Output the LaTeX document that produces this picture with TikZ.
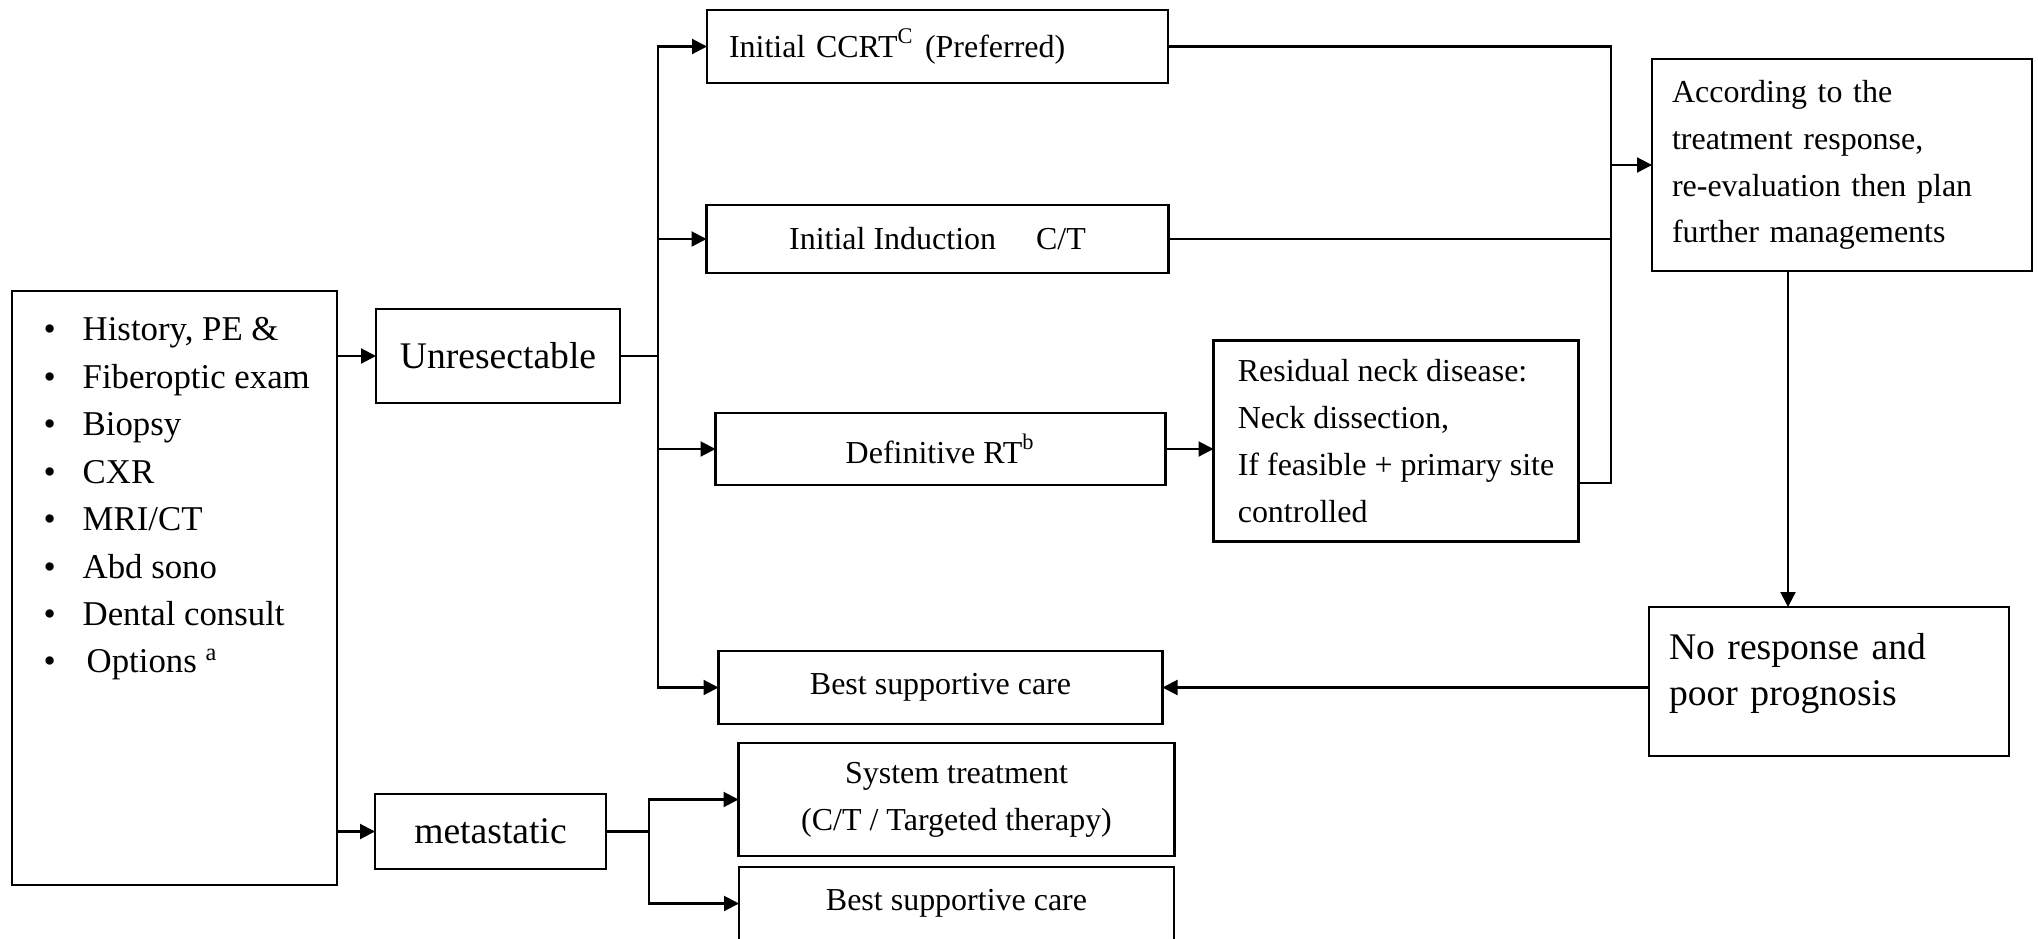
\documentclass[tikz,border=0pt]{standalone}
\usepackage{fontspec}
\setmainfont{Liberation Serif}
\usetikzlibrary{positioning,arrows.meta,calc}

\begin{document}
\begin{tikzpicture}[
  every node/.style={font=\fontsize{9.1}{13.3}\selectfont},
  box/.style={rectangle, draw=black, line width=0.8pt, inner xsep=0.2cm, inner ysep=0pt,
              outer sep=0pt, align=center},
  bigtxt/.style={font=\fontsize{10.7}{13.3}\selectfont},
  line/.style={line width=0.6pt, black},
  arr/.style={-{Triangle[length=1.5mm, width=1.5mm]}, line width=0.6pt, black}
]
  \useasboundingbox (0,0) rectangle (20.38,-9.38);
  \node[box, minimum width=3.25cm, minimum height=5.94cm] (list) at (1.745,-5.88) {};
  \node[anchor=north west, inner sep=0pt, align=left, font=\fontsize{9.9}{13.5}\selectfont] (listtxt)
    at ($(list.north west)+(0.31,-0.26)$)
    {\makebox[3.9mm][l]{\textbullet}History, PE \&\\
     \makebox[3.9mm][l]{\textbullet}Fiberoptic exam\\
     \makebox[3.9mm][l]{\textbullet}Biopsy\\
     \makebox[3.9mm][l]{\textbullet}CXR\\
     \makebox[3.9mm][l]{\textbullet}MRI/CT\\
     \makebox[3.9mm][l]{\textbullet}Abd sono\\
     \makebox[3.9mm][l]{\textbullet}Dental consult\\
     \makebox[3.9mm][l]{\textbullet}\hspace{0.4mm}Options \textsuperscript{a}};
  \node[box, bigtxt, minimum width=2.44cm, minimum height=0.94cm] (unres) at (4.98,-3.56) {Unresectable};
  \node[box, bigtxt, minimum width=2.31cm, minimum height=0.75cm] (meta) at (4.905,-8.315) {metastatic};
  \node[box, text width=4.17cm, align=left, inner xsep=0.22cm, minimum height=0.73cm] (ccrt)
    at (9.375,-0.465) {Initial CCRT\textsuperscript{C} (Preferred)};
  \node[box, minimum width=4.62cm, minimum height=0.68cm, below=1.22cm of ccrt] (induc)
    {Initial Induction\hspace{4mm}C/T};
  \node[box, minimum width=4.50cm, minimum height=0.72cm, below=1.40cm of induc, xshift=0.03cm] (defrt)
    {Definitive RT\textsuperscript{b}};
  \node[box, minimum width=4.44cm, minimum height=0.73cm, below=1.66cm of defrt] (bsc) {Best supportive care};
  \node[box, minimum width=4.36cm, minimum height=1.13cm, below=0.19cm of bsc, xshift=0.16cm] (systx)
    {System treatment\\(C/T / Targeted therapy)};
  \node[box, minimum width=4.35cm, minimum height=0.73cm, below=0.11cm of systx] (bsc2) {Best supportive care};
  \node[box, align=left, minimum width=3.65cm, minimum height=2.01cm, right=0.48cm of defrt, yshift=0.08cm] (resid)
    {Residual neck disease:\\Neck dissection,\\If feasible + primary site\\controlled};
  \node[box, text width=3.4cm, align=left, minimum height=2.12cm] (accord) at (18.42,-1.65)
    {According to the\\treatment response,\\re-evaluation then plan\\further managements};
  \node[box, bigtxt, text width=3.2cm, align=left, text depth=0.71cm, minimum height=1.49cm,
        below=3.36cm of accord, xshift=-0.13cm] (noresp)
    {No response and\\poor prognosis};

  \coordinate (trunk) at ($(unres.east)+(0.38,0)$);
  \coordinate (mfork) at ($(meta.east)+(0.43,0)$);
  \coordinate (coll) at ($(accord.west)+(-0.41,0)$);
  \coordinate (resout) at ($(resid.east)+(0,-0.42)$);
  \coordinate (down) at ($(accord.south)+(-0.54,0)$);

  \draw[arr] (list.east |- unres.west) -- (unres.west);
  \draw[arr] (list.east |- meta.west) -- (meta.west);
  \draw[line] (unres.east) -- (trunk);
  \draw[arr] (trunk) |- (ccrt.west);
  \draw[arr] (trunk) |- (induc.west);
  \draw[arr] (trunk) |- (defrt.west);
  \draw[arr] (trunk) |- (bsc.west);
  \draw[line] (meta.east) -- (mfork);
  \draw[arr] (mfork) |- (systx.west);
  \draw[arr] (mfork) |- (bsc2.west);
  \draw[arr] (defrt.east) -- (defrt.east -| resid.west);
  \draw[line] (ccrt.east) -| (coll);
  \draw[line] (induc.east) -| (coll);
  \draw[line] (resout) -| (coll);
  \draw[arr] (coll) -- (accord.west);
  \draw[arr] (down) -- (down |- noresp.north);
  \draw[arr] (noresp.west |- bsc.east) -- (bsc.east);
\end{tikzpicture}
\end{document}
